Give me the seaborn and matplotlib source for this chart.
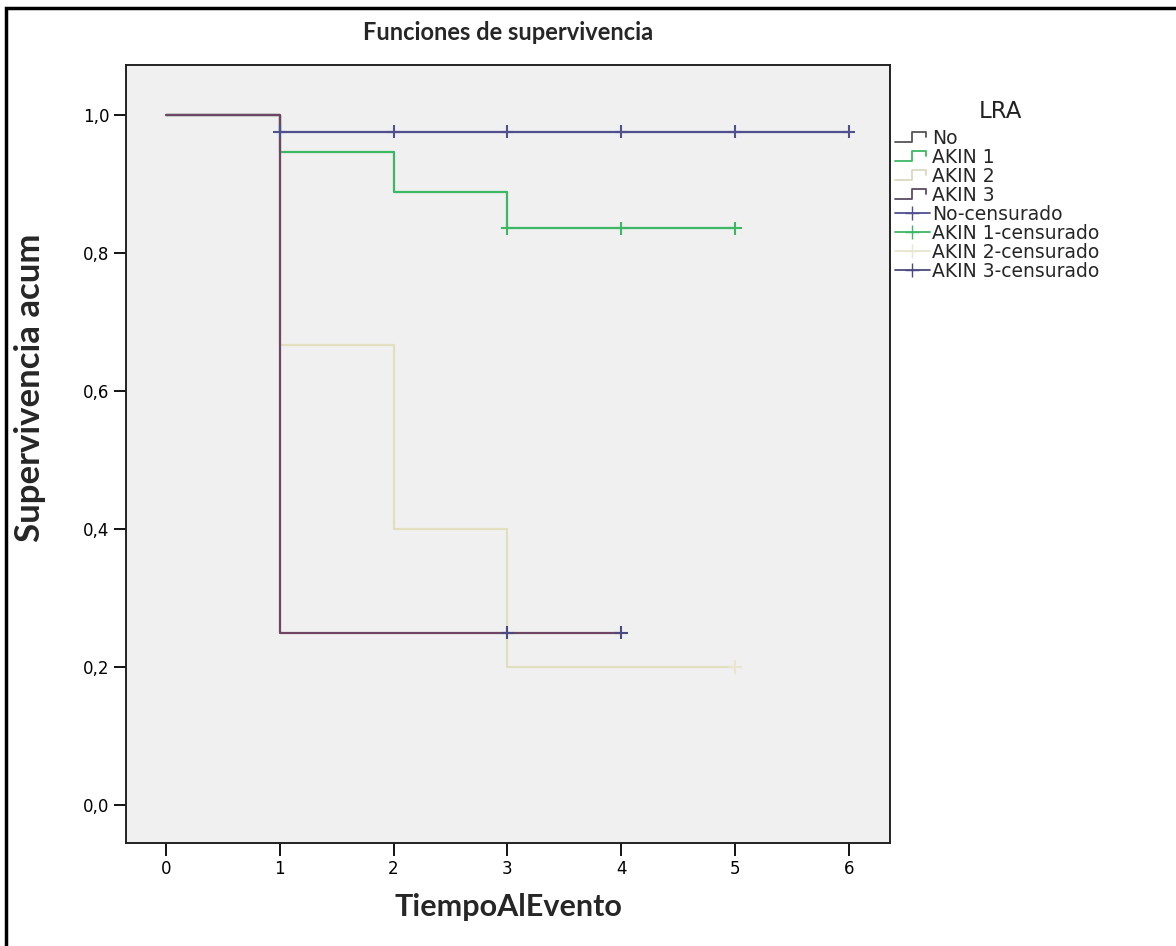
import pandas as pd
import matplotlib.pyplot as plt
import seaborn as sns
from matplotlib.lines import Line2D
from matplotlib.patches import Rectangle
from matplotlib.legend_handler import HandlerBase

# curvas de Kaplan-Meier por grupo LRA (tiempo, supervivencia acumulada)
grupos = ['No', 'AKIN 1', 'AKIN 2', 'AKIN 3']
tiempo_no = [0, 1, 6]
surv_no = [1.0, 0.976, 0.976]
tiempo_akin1 = [0, 1, 2, 3, 5]
surv_akin1 = [1.0, 0.947, 0.889, 0.836, 0.836]
tiempo_akin2 = [0, 1, 2, 3, 5]
surv_akin2 = [1.0, 0.667, 0.40, 0.20, 0.20]
tiempo_akin3 = [0, 1, 4]
surv_akin3 = [1.0, 0.25, 0.25]

# casos censurados
cens_no_t = [1, 2, 3, 4, 5, 6]
cens_no_s = [0.976] * 6
cens_akin1_t = [3, 4, 5]
cens_akin1_s = [0.836] * 3
cens_akin2_t = [5]
cens_akin2_s = [0.20]
cens_akin3_t = [3, 4]
cens_akin3_s = [0.25] * 2

yticks = [0.0, 0.2, 0.4, 0.6, 0.8, 1.0]
xticks = [0, 1, 2, 3, 4, 5, 6]

colores = {'No': '#50508f', 'AKIN 1': '#3cb865', 'AKIN 2': '#e2dfbf', 'AKIN 3': '#6e4562'}
colores_cens = {'No': '#50508f', 'AKIN 1': '#3cb865', 'AKIN 2': '#e8e6d0', 'AKIN 3': '#4a4a80'}
colores_leg = {'No': '#555555', 'AKIN 1': '#3cb865', 'AKIN 2': '#ddd8c0', 'AKIN 3': '#5a4a62'}

curvas = pd.concat([
    pd.DataFrame({'t': tiempo_no, 's': surv_no, 'LRA': 'No'}),
    pd.DataFrame({'t': tiempo_akin1, 's': surv_akin1, 'LRA': 'AKIN 1'}),
    pd.DataFrame({'t': tiempo_akin2, 's': surv_akin2, 'LRA': 'AKIN 2'}),
    pd.DataFrame({'t': tiempo_akin3, 's': surv_akin3, 'LRA': 'AKIN 3'}),
], ignore_index=True)
cens = pd.concat([
    pd.DataFrame({'t': cens_no_t, 's': cens_no_s, 'LRA': 'No'}),
    pd.DataFrame({'t': cens_akin1_t, 's': cens_akin1_s, 'LRA': 'AKIN 1'}),
    pd.DataFrame({'t': cens_akin2_t, 's': cens_akin2_s, 'LRA': 'AKIN 2'}),
    pd.DataFrame({'t': cens_akin3_t, 's': cens_akin3_s, 'LRA': 'AKIN 3'}),
], ignore_index=True)

sns.set_style('white')
plt.rcParams['font.family'] = ['Lato', 'DejaVu Sans']

fig = plt.figure(figsize=(11.76, 9.46), dpi=100)
ax = fig.add_axes([0.1071, 0.1089, 0.6497, 0.8224])
ax.set_facecolor('#f0f0f0')

sns.lineplot(data=curvas, x='t', y='s', hue='LRA', hue_order=grupos, palette=colores,
             estimator=None, drawstyle='steps-post', linewidth=1.6, legend=False, ax=ax)
sns.scatterplot(data=cens, x='t', y='s', hue='LRA', hue_order=grupos, palette=colores_cens,
                marker='+', s=90, linewidth=1.5, legend=False, ax=ax, zorder=4)

ax.set_xlim(-0.351, 6.362)
ax.set_ylim(-0.055, 1.0725)
ax.set_xticks(xticks)
ax.set_xticklabels([str(v) for v in xticks], family='DejaVu Sans')
ax.set_yticks(yticks)
ax.set_yticklabels([f'{v:.1f}'.replace('.', ',') for v in yticks], family='DejaVu Sans')
ax.tick_params(axis='both', direction='out', length=9, width=1.3, labelsize=12,
               colors='black', bottom=True, left=True, pad=3)
for sp in ax.spines.values():
    sp.set_color('#222222')
    sp.set_linewidth(1.4)

ax.set_xlabel('TiempoAlEvento', fontsize=22, fontweight='bold', labelpad=11)
ax.set_ylabel('Supervivencia acum', fontsize=25, fontweight='bold')
ax.yaxis.set_label_coords(-0.104, 0.585)
ax.set_title('Funciones de supervivencia', fontsize=17, fontweight='bold', pad=18)


class Escalon(HandlerBase):
    def create_artists(self, legend, orig_handle, xdescent, ydescent, width, height, fontsize, trans):
        x0 = -xdescent
        y0 = -ydescent
        xs = [x0, x0 + 0.5 * width, x0 + 0.5 * width, x0 + 0.9 * width, x0 + 0.9 * width]
        ys = [y0 + 0.1 * height, y0 + 0.1 * height, y0 + 0.85 * height, y0 + 0.85 * height, y0 + 0.5 * height]
        ln = Line2D(xs, ys, color=orig_handle.get_color(), lw=1.3, transform=trans)
        return [ln]


handles = [Line2D([], [], color=colores_leg[g]) for g in grupos]
handles += [Line2D([], [], color=colores_cens[g], marker='+', markersize=10, lw=1.3) for g in grupos]
labels = grupos + [g + '-censurado' for g in grupos]
hmap = {h: Escalon() for h in handles[:4]}
leg = fig.legend(handles, labels, handler_map=hmap, loc='upper left',
                 bbox_to_anchor=(0.761, 0.864), frameon=False,
                 prop={'family': 'DejaVu Sans', 'size': 13.5},
                 handlelength=1.87, handletextpad=0.1,
                 labelspacing=0.0, borderaxespad=0, borderpad=0)
fig.text(1000 / 1176, 1 - 112 / 946, 'LRA', ha='center', va='center',
         family='DejaVu Sans', fontsize=16.5, color='#222222')

fig.patches.append(Rectangle((6 / 1176, -0.02), 1.05, 1 - 8 / 946 + 0.02, transform=fig.transFigure,
                             fill=False, edgecolor='black', linewidth=2.5))

fig.savefig('out.png', dpi=100)
